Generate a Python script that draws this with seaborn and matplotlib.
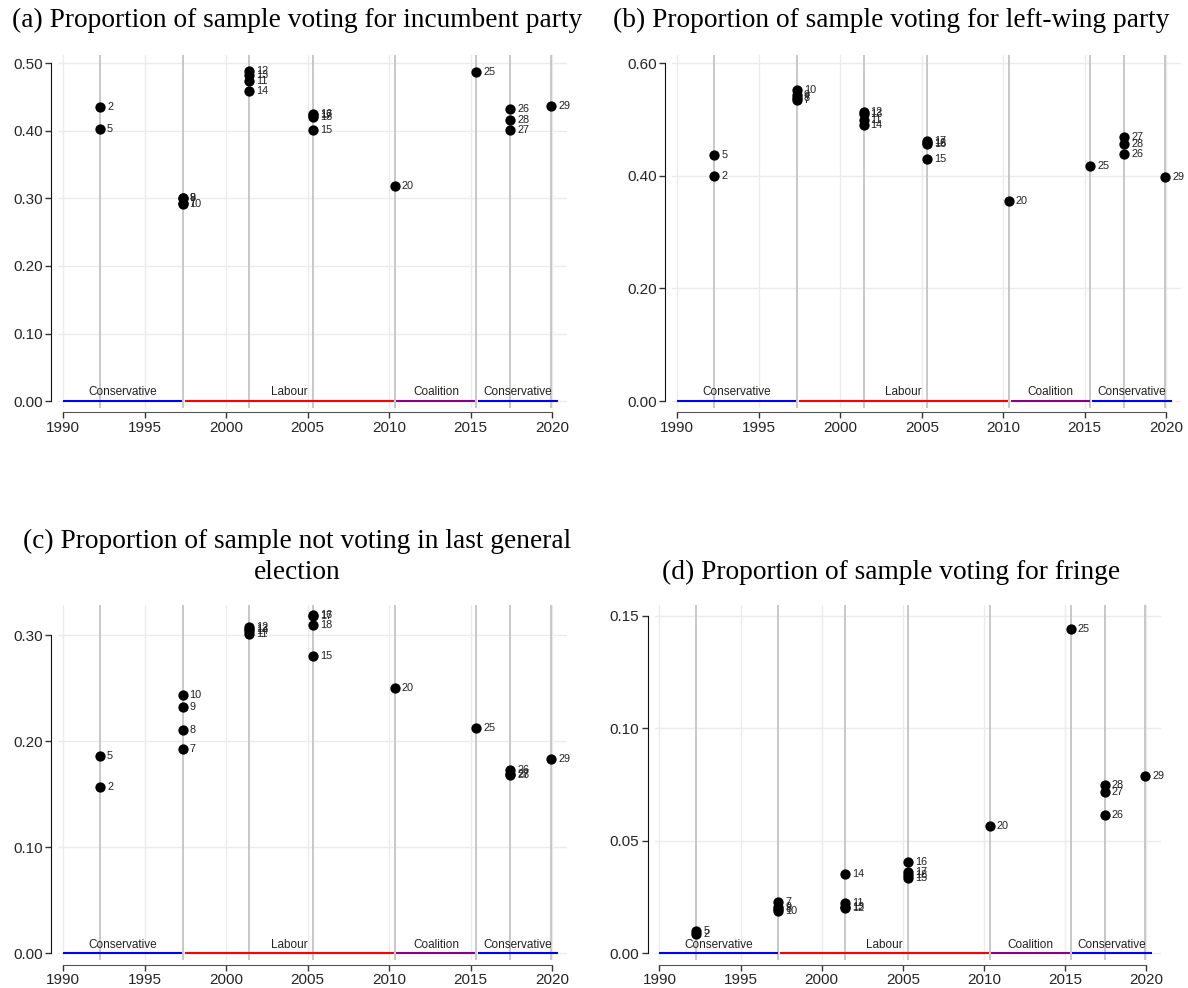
import matplotlib
matplotlib.use("Agg")
import matplotlib.pyplot as plt
import seaborn as sns
import pandas as pd
import numpy as np

sns.set_style("white")
plt.rcParams['font.family'] = ['Liberation Sans', 'DejaVu Sans']

# Election dates (decimal years) and the surveys attached to each
election_dates = [1992.27, 1997.33, 2001.43, 2005.34, 2010.35, 2015.35, 2017.44, 2019.95]
survey_ids = [2, 5, 7, 8, 9, 10, 11, 12, 13, 14, 15, 16, 17, 18, 20, 25, 26, 27, 28, 29]
survey_election = [0, 0, 1, 1, 1, 1, 2, 2, 2, 2, 3, 3, 3, 3, 4, 5, 6, 6, 6, 7]

# Panel values, same order as survey_ids
incumbent = [0.435, 0.403, 0.293, 0.300, 0.301, 0.292, 0.474, 0.489, 0.483, 0.459,
             0.401, 0.425, 0.423, 0.421, 0.319, 0.487, 0.433, 0.402, 0.416, 0.437]
left_wing = [0.399, 0.437, 0.535, 0.539, 0.544, 0.552, 0.500, 0.513, 0.509, 0.490,
             0.429, 0.458, 0.462, 0.456, 0.355, 0.418, 0.439, 0.469, 0.457, 0.398]
not_voting = [0.157, 0.186, 0.193, 0.211, 0.232, 0.244, 0.301, 0.308, 0.306, 0.304,
              0.281, 0.319, 0.318, 0.310, 0.250, 0.213, 0.173, 0.169, 0.168, 0.183]
fringe = [0.0088, 0.0098, 0.0228, 0.0195, 0.0205, 0.0187, 0.0225, 0.0200, 0.0208, 0.0353,
          0.0333, 0.0406, 0.0360, 0.0348, 0.0567, 0.1442, 0.0614, 0.0717, 0.0748, 0.0789]

titles = ["(a) Proportion of sample voting for incumbent party",
          "(b) Proportion of sample voting for left-wing party",
          "(c) Proportion of sample not voting in last general\nelection",
          "(d) Proportion of sample voting for fringe"]
y_ticks = [[0.0, 0.1, 0.2, 0.3, 0.4, 0.5],
           [0.0, 0.2, 0.4, 0.6],
           [0.0, 0.1, 0.2, 0.3],
           [0.0, 0.05, 0.10, 0.15]]
x_ticks = [1990, 1995, 2000, 2005, 2010, 2015, 2020]

gov_names = ["Conservative", "Labour", "Coalition", "Conservative"]
gov_start = [1990.0, 1997.45, 2010.45, 2015.45]
gov_end = [1997.30, 2010.30, 2015.30, 2020.35]
gov_colors = ["#0000ff", "#ff0000", "#8b008b", "#0000ff"]

panels = [incumbent, left_wing, not_voting, fringe]

fig = plt.figure(figsize=(11.88, 9.88), dpi=100)
boxes = [[0.049, 0.587, 0.428, 0.357],
         [0.566, 0.587, 0.428, 0.357],
         [0.049, 0.028, 0.428, 0.360],
         [0.551, 0.028, 0.426, 0.360]]
ylims = [(-0.0104, 0.512), (-0.0124, 0.614), (-0.0066, 0.329), (-0.0031, 0.155)]
title_pos = [(0.25, 0.979), (0.75, 0.979), (0.25, 0.436), (0.75, 0.421)]

for i, vals in enumerate(panels):
    ax = fig.add_axes(boxes[i])
    df = pd.DataFrame({
        "id": survey_ids,
        "date": [election_dates[e] for e in survey_election],
        "value": vals,
    })
    ytop = y_ticks[i][-1]
    ax.set_xlim(1989.7, 2020.9)
    ax.set_ylim(*ylims[i])
    # gridlines
    for xt in x_ticks:
        ax.axvline(xt, color="#ebebeb", lw=1.0, zorder=0)
    for yt in y_ticks[i]:
        ax.axhline(yt, color="#ebebeb", lw=1.0, zorder=0)
    for d in election_dates:
        ax.axvline(d, color="#c4c4c4", lw=1.3, zorder=1)
    # government bars
    for name, s, e, c in zip(gov_names, gov_start, gov_end, gov_colors):
        ax.plot([s, e], [0, 0], color=c, lw=1.5, zorder=2, solid_capstyle="butt")
        ax.annotate(name, xy=((s + e) / 2, 0), xytext=(0, 2), textcoords="offset points",
                    ha="center", va="bottom", fontsize=8.5, color="#222222", zorder=3)
    sns.scatterplot(data=df, x="date", y="value", ax=ax, color="black", s=55,
                    edgecolor="black", linewidth=0, zorder=4, legend=False)
    for _, r in df.iterrows():
        ax.annotate(str(int(r["id"])), xy=(r["date"], r["value"]), xytext=(5, 0),
                    textcoords="offset points", ha="left", va="center",
                    fontsize=7.8, color="#222222", zorder=5)
    ax.set_xticks(x_ticks)
    ax.set_yticks(y_ticks[i])
    ax.set_yticklabels([f"{v:.2f}" for v in y_ticks[i]])
    ax.tick_params(axis="both", labelsize=11, length=4, width=1, color="#333333",
                   direction="out", bottom=True, left=True, pad=2)
    ax.set_xlabel("")
    ax.set_ylabel("")
    for side in ["top", "right"]:
        ax.spines[side].set_visible(False)
    ax.spines["left"].set_position(("outward", 5))
    ax.spines["bottom"].set_position(("outward", 3))
    ax.spines["left"].set_bounds(0, ytop)
    ax.spines["bottom"].set_bounds(1990, 2020)
    ax.spines["left"].set_color("#111111")
    ax.spines["bottom"].set_color("#555555")
    fig.text(title_pos[i][0], title_pos[i][1], titles[i], fontfamily="Liberation Serif",
             fontsize=19.7, ha="center", va="center", linespacing=1.3, color="black")

fig.savefig("out.png", dpi=100, facecolor="white")
